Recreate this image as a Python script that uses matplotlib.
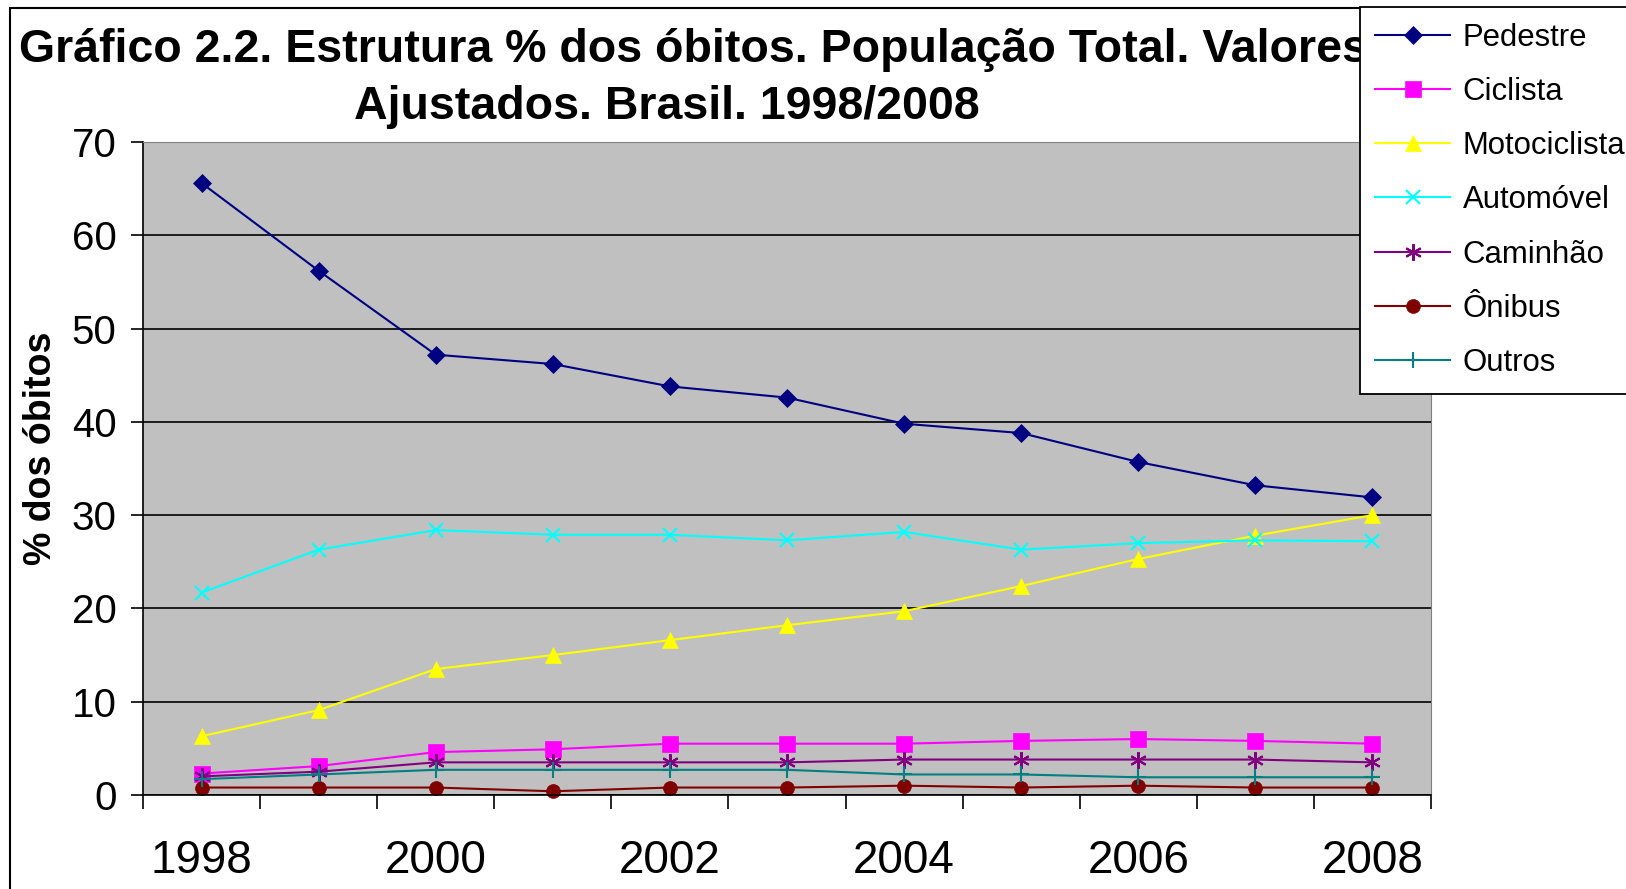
import numpy as np
import matplotlib
matplotlib.use('Agg')
import matplotlib.pyplot as plt
from matplotlib.patches import Rectangle

plt.rcParams['font.family'] = ['Liberation Sans', 'DejaVu Sans']

# Data
years = [1998, 1999, 2000, 2001, 2002, 2003, 2004, 2005, 2006, 2007, 2008]
pedestre = [65.6, 56.2, 47.2, 46.2, 43.8, 42.6, 39.8, 38.8, 35.7, 33.2, 31.9]
ciclista = [2.3, 3.1, 4.6, 4.9, 5.5, 5.5, 5.5, 5.8, 6.0, 5.8, 5.5]
motociclista = [6.3, 9.1, 13.5, 15.0, 16.6, 18.2, 19.7, 22.4, 25.3, 27.8, 30.0]
automovel = [21.7, 26.3, 28.4, 27.9, 27.9, 27.3, 28.2, 26.3, 27.0, 27.3, 27.2]
caminhao = [2.0, 2.5, 3.5, 3.5, 3.5, 3.5, 3.8, 3.8, 3.8, 3.8, 3.5]
onibus = [0.8, 0.8, 0.8, 0.4, 0.8, 0.8, 1.0, 0.8, 1.0, 0.8, 0.8]
outros = [1.7, 2.2, 2.7, 2.7, 2.7, 2.7, 2.2, 2.2, 1.9, 1.9, 1.9]

series_names = ['Pedestre', 'Ciclista', 'Motociclista', 'Automóvel', 'Caminhão', 'Ônibus', 'Outros']
series_values = [pedestre, ciclista, motociclista, automovel, caminhao, onibus, outros]
colors = ['#000080', '#FF00FF', '#FFFF00', '#00FFFF', '#800080', '#800000', '#008080']
markers = ['D', 's', '^', 'x', (6, 2, 0), 'o', '+']
msizes = [9, 12, 12, 10, 12, 10, 12]

W, H = 1626, 889
fig = plt.figure(figsize=(W / 100, H / 100), dpi=100)
ax = fig.add_axes([143 / W, 1 - 795 / H, (1431 - 143) / W, (795 - 142) / H])
ax.set_facecolor('#C0C0C0')

x = np.arange(len(years))
for name, vals, c, m, ms in zip(series_names, series_values, colors, markers, msizes):
    ax.plot(x, vals, color=c, marker=m, markersize=ms, linewidth=1.5,
            markeredgewidth=1.5 if m in ('x', '+', (6, 2, 0)) else 0.5,
            markeredgecolor=c, label=name, clip_on=False)

ax.set_xlim(-0.5, len(years) - 0.5)
ax.set_ylim(0, 70)
ax.set_yticks(np.arange(0, 71, 10))
ax.yaxis.grid(True, color='black', linewidth=1.2)
ax.set_axisbelow(True)
ax.tick_params(axis='y', direction='out', length=9, width=1.2, labelsize=29, pad=10)

# tick marks between categories, labels every two years
ax.set_xticks(np.arange(-0.5, len(years), 1))
ax.set_xticklabels([])
ax.tick_params(axis='x', which='major', direction='out', length=10, width=1.2)
ax.set_xticks(x[::2], minor=True)
ax.set_xticklabels([str(y) for y in years[::2]], minor=True)
ax.tick_params(axis='x', which='minor', length=0, labelsize=33, pad=32)

ax.spines['left'].set_linewidth(1.2)
ax.spines['bottom'].set_linewidth(1.2)
ax.spines['top'].set_color('#808080')
ax.spines['right'].set_color('#808080')

fig.text(41 / W, 1 - 448 / H, '% dos óbitos', rotation=90, fontsize=27,
         fontweight='bold', ha='center', va='center')

fig.text(19 / W, 1 - 50 / H, 'Gráfico 2.2. Estrutura % dos óbitos. População Total. Valores',
         fontsize=33.5, fontweight='bold', ha='left', va='center', zorder=1)
fig.text(667 / W, 1 - 107 / H, 'Ajustados. Brasil. 1998/2008',
         fontsize=33.5, fontweight='bold', ha='center', va='center', zorder=1)

# outer chart border
fig.patches.append(Rectangle((10 / W, -0.05), 1.1, 1 - 8 / H + 0.05, transform=fig.transFigure,
                             fill=False, edgecolor='black', linewidth=1.5, zorder=0))

leg = fig.legend(loc='upper right', bbox_to_anchor=(1.009, 1 - 7 / H), fontsize=22.4,
                 frameon=True, fancybox=False, edgecolor='black', framealpha=1,
                 handlelength=2.4, labelspacing=0.78, borderpad=0.5, handletextpad=0.4,
                 borderaxespad=0)
leg.get_frame().set_linewidth(1.3)
leg.set_zorder(5)

fig.savefig('out.png', dpi=100)
